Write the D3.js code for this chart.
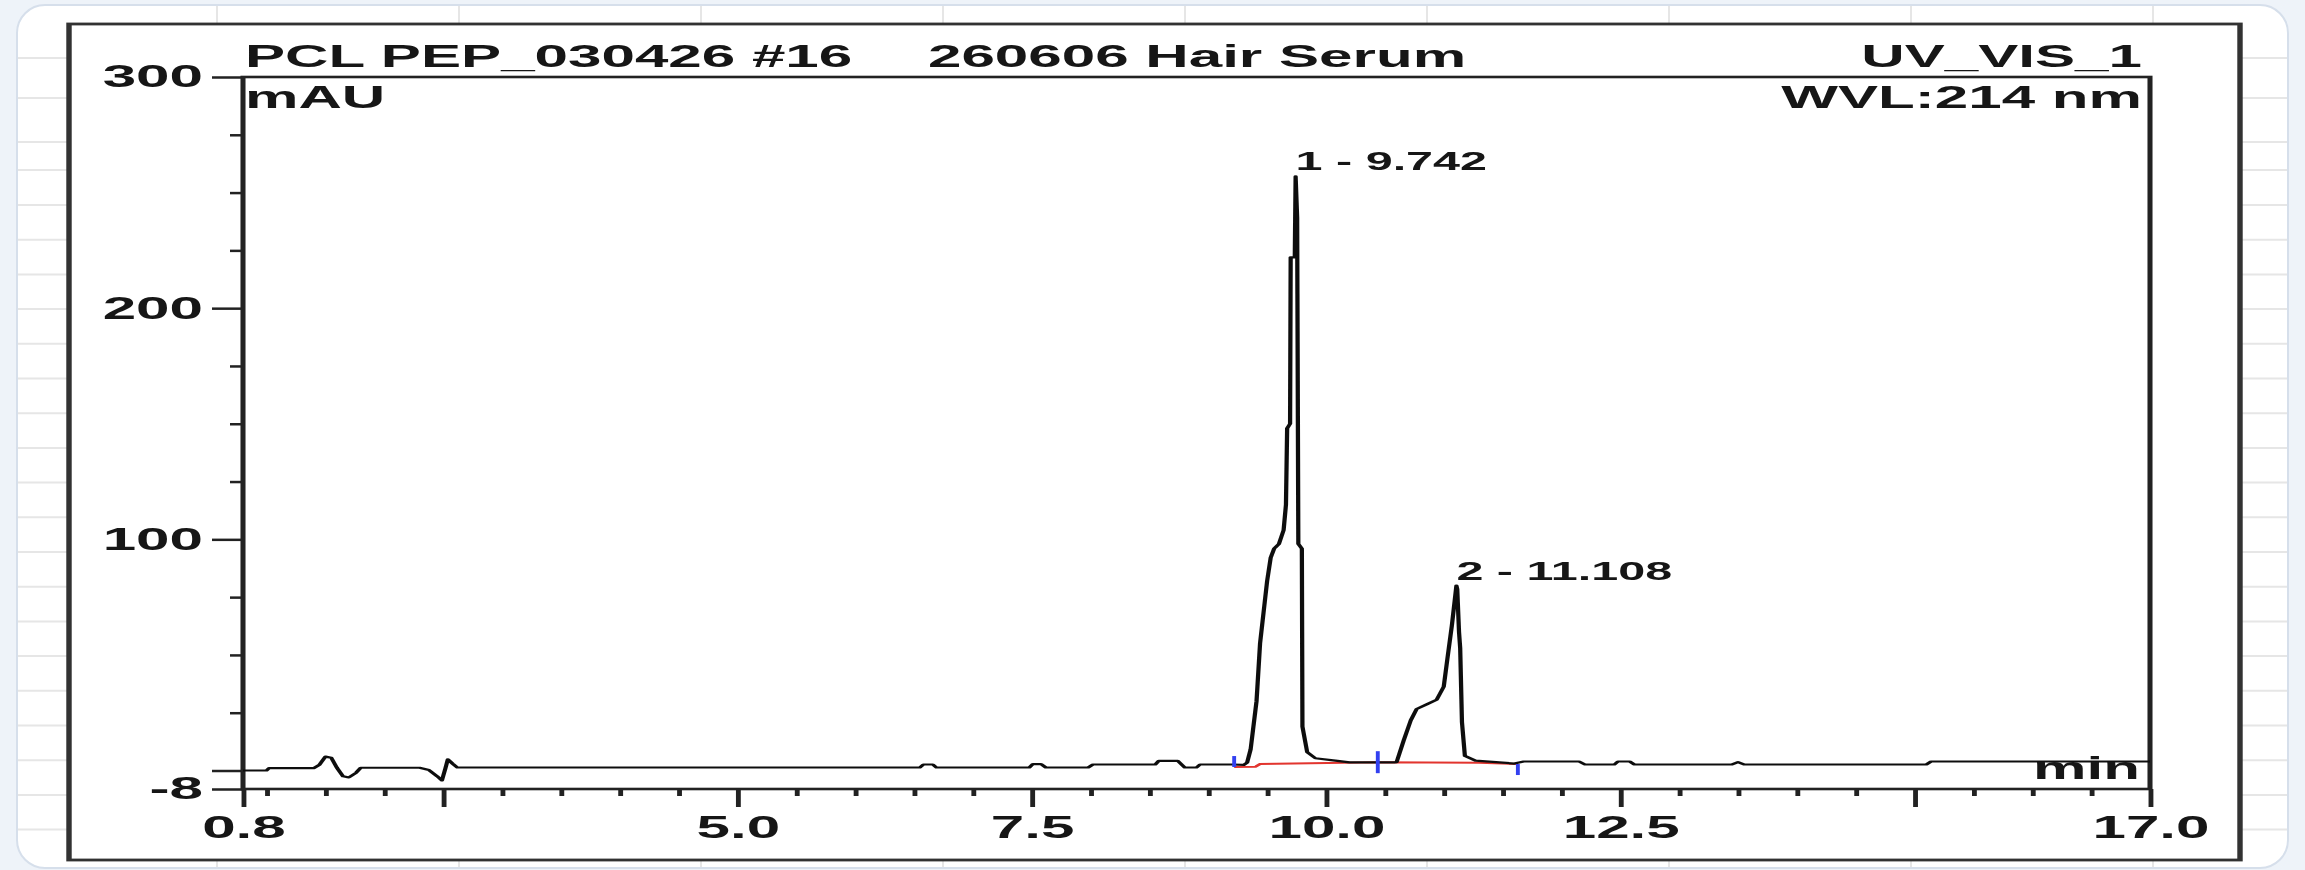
<!DOCTYPE html>
<html>
<head>
<meta charset="utf-8">
<script src="https://cdn.jsdelivr.net/npm/d3@7"></script>
<style>
  body { margin: 0; background: #eef3f9; }
  svg { display: block; }
</style>
</head>
<body>
<div id="chart"></div>
<script>
// ---- data ----
var titleLeft = "PCL PEP_030426 #16";
var titleMid = "260606 Hair Serum";
var channel = "UV_VIS_1";
var wavelength = "WVL:214 nm";
var yUnit = "mAU";
var xUnit = "min";

var xDomain = [0.8, 17.0];
var yDomain = [-8, 300];
var xMajor = [0.8, 2.5, 5.0, 7.5, 10.0, 12.5, 15.0, 17.0];
var xLabeled = [0.8, 5.0, 7.5, 10.0, 12.5, 17.0];
var xMinor = [1, 1.5, 2, 3, 3.5, 4, 4.5, 5.5, 6, 6.5, 7, 8, 8.5, 9, 9.5, 10.5, 11, 11.5, 12, 13, 13.5, 14, 14.5, 15.5, 16, 16.5];
var yMajor = [300, 200, 100, 0, -8];
var yLabeled = [300, 200, 100, -8];
var yMinor = [275, 250, 225, 175, 150, 125, 75, 50, 25];

// signal: [time (min), absorbance (mAU)]
var trace = [
  [0.80, 0.0], [1.00, 0.0], [1.02, 1.0], [1.40, 1.0], [1.45, 2.5], [1.50, 6.0], [1.55, 5.5],
  [1.60, 1.0], [1.65, -2.5], [1.70, -3.0], [1.76, -1.0], [1.80, 1.2], [2.30, 1.2], [2.38, 0.2],
  [2.45, -2.5], [2.49, -4.3], [2.52, 1.0], [2.54, 4.8], [2.58, 3.0], [2.62, 1.3], [4.00, 1.3],
  [5.50, 1.3], [6.55, 1.3], [6.58, 2.6], [6.66, 2.6], [6.69, 1.3], [7.48, 1.3], [7.51, 2.8],
  [7.58, 2.8], [7.62, 1.3], [7.98, 1.3], [8.02, 2.6], [8.55, 2.6], [8.58, 4.2], [8.74, 4.2],
  [8.80, 1.3], [8.90, 1.3], [8.93, 2.6], [9.20, 2.6], [9.30, 2.4], [9.33, 3.4], [9.36, 9.2],
  [9.41, 30], [9.44, 55], [9.48, 73], [9.50, 82], [9.53, 92], [9.56, 96], [9.60, 98],
  [9.64, 104], [9.66, 115], [9.67, 148], [9.695, 150], [9.70, 222], [9.735, 222], [9.742, 257],
  [9.755, 239], [9.765, 98], [9.795, 96], [9.80, 19], [9.84, 8], [9.91, 5.3], [10.08, 4.3],
  [10.20, 3.5], [10.58, 3.5], [10.60, 3.6], [10.66, 13], [10.72, 21.7], [10.77, 26.6],
  [10.86, 28.7], [10.94, 30.6], [11.00, 36.2], [11.03, 47.8], [11.07, 63], [11.108, 80],
  [11.115, 78.5], [11.13, 60], [11.14, 53], [11.155, 21], [11.18, 6.3], [11.27, 4.3],
  [11.60, 3.0], [11.68, 3.9], [12.15, 3.9], [12.20, 2.6], [12.45, 2.6], [12.48, 3.9],
  [12.58, 3.9], [12.62, 2.6], [13.45, 2.6], [13.50, 3.6], [13.55, 2.6], [15.10, 2.6],
  [15.14, 3.9], [17.00, 3.9]
];

// integration baseline and delimiters
var baseline = [[9.22, 1.5], [9.40, 1.6], [9.44, 2.8], [10.44, 3.6], [11.30, 3.4], [11.63, 2.8]];
var delimTimes = [9.22, 10.44, 11.63];
var delimValues = [1.5, 3.6, 2.8];
var delimKind = ["start", "split", "end"];

// peaks
var peakNames = ["1 - 9.742", "2 - 11.108"];
var peakTimes = [9.742, 11.108];
var peakHeights = [257, 80];

// ---- layout ----
var W = 2305, H = 870;
var SX = 1.94;              // source picture is stretched horizontally
var FONT = "'Liberation Sans', Arial, sans-serif";

var svg = d3.select("#chart").append("svg")
  .attr("width", W)
  .attr("height", H);

svg.append("rect").attr("width", W).attr("height", H).attr("fill", "#eef3f9");

// white panel with faint sheet grid behind the chart
svg.append("rect")
  .attr("x", 17).attr("y", 5).attr("width", 2271).attr("height", 863)
  .attr("rx", 28).attr("ry", 28)
  .attr("fill", "#ffffff")
  .attr("stroke", "#d6dfeb")
  .attr("stroke-width", 2);

var rows = [58, 98, 142, 170];
for (var r = 205; r <= 840; r += 34.7) rows.push(r);
var cols = d3.range(9).map(function(k){ return 217 + 242 * k; });

var sheet = svg.append("g").attr("stroke", "#e6e6e6").attr("stroke-width", 2);
sheet.selectAll(".row").data(rows).enter().append("line")
  .attr("x1", 18).attr("x2", 2287)
  .attr("y1", function(d){ return d; }).attr("y2", function(d){ return d; });
sheet.selectAll(".col").data(cols).enter().append("line")
  .attr("x1", function(d){ return d; }).attr("x2", function(d){ return d; })
  .attr("y1", 6).attr("y2", 867);

// soft filter to mimic the blurry screenshot
var defs = svg.append("defs");
defs.append("filter").attr("id", "soft")
  .append("feGaussianBlur").attr("stdDeviation", "0.4 0.6");

// everything of the chart lives in a horizontally stretched group
var g = svg.append("g")
  .attr("transform", "scale(" + SX + ",1)")
  .attr("filter", "url(#soft)");

g.append("rect")
  .attr("x", 69 / SX).attr("y", 24)
  .attr("width", (2240 - 69) / SX).attr("height", 836)
  .attr("fill", "#ffffff")
  .attr("stroke", "#333")
  .attr("stroke-width", 2.8);

var x = d3.scaleLinear().domain(xDomain).range([243 / SX, 2150 / SX]);
var y = d3.scaleLinear().domain(yDomain).range([789, 77]);

// y axis
var yAxis = g.append("g")
  .attr("transform", "translate(" + x(xDomain[0]) + ",0)")
  .call(d3.axisLeft(y).tickValues(yMajor).tickSize(31 / SX).tickPadding(9 / SX)
    .tickFormat(function(d){ return yLabeled.indexOf(d) >= 0 ? d : ""; }));
g.append("g")
  .attr("transform", "translate(" + x(xDomain[0]) + ",0)")
  .call(d3.axisLeft(y).tickValues(yMinor).tickSize(13 / SX).tickFormat(""));

// x axis
g.append("g")
  .attr("transform", "translate(0," + y(yDomain[0]) + ")")
  .call(d3.axisBottom(x).tickValues(xMajor).tickSize(18).tickPadding(9)
    .tickFormat(function(d){ return xLabeled.indexOf(d) >= 0 ? d3.format(".1f")(d) : ""; }));
g.append("g")
  .attr("transform", "translate(0," + y(yDomain[0]) + ")")
  .call(d3.axisBottom(x).tickValues(xMinor).tickSize(7).tickFormat(""));

g.selectAll(".domain").remove();
g.selectAll(".tick line").attr("stroke", "#222").attr("stroke-width", 2.5);
g.selectAll(".tick text")
  .attr("fill", "#151515")
  .style("font-family", FONT)
  .style("font-size", "31px")
  .style("font-weight", "bold");

// plot box
g.append("rect")
  .attr("x", x(xDomain[0])).attr("y", y(yDomain[1]))
  .attr("width", x(xDomain[1]) - x(xDomain[0]))
  .attr("height", y(yDomain[0]) - y(yDomain[1]))
  .attr("fill", "none")
  .attr("stroke", "#222")
  .attr("stroke-width", 2.6);

// header texts
function label(txt, px, py, anchor, size) {
  g.append("text")
    .attr("x", px).attr("y", py)
    .attr("text-anchor", anchor)
    .attr("fill", "#151515")
    .style("font-family", FONT)
    .style("font-size", size + "px")
    .style("font-weight", "bold")
    .text(txt);
}
label(titleLeft, 245 / SX, 67, "start", 31);
label(titleMid, 928 / SX, 67, "start", 31);
label(channel, 2142 / SX, 67, "end", 31);
label(yUnit, 245 / SX, 108, "start", 31);
label(wavelength, 2142 / SX, 108, "end", 31);
label(xUnit, 2140 / SX, 779, "end", 31);

// integration baseline
var line = d3.line()
  .x(function(d){ return x(d[0]); })
  .y(function(d){ return y(d[1]); });

g.append("path")
  .datum(baseline)
  .attr("d", line)
  .attr("fill", "none")
  .attr("stroke", "#e2342f")
  .attr("stroke-width", 2);

// chromatogram
g.append("path")
  .datum(trace)
  .attr("d", line)
  .attr("fill", "none")
  .attr("stroke", "#111")
  .attr("stroke-width", 2.2)
  .attr("stroke-linejoin", "round");

// peak delimiters
g.selectAll(".delim")
  .data(delimTimes)
  .enter().append("line")
  .attr("x1", function(d){ return x(d); })
  .attr("x2", function(d){ return x(d); })
  .attr("y1", function(d, i){ return y(delimValues[i]) - (delimKind[i] == "end" ? 0 : 11); })
  .attr("y2", function(d, i){ return y(delimValues[i]) + (delimKind[i] == "start" ? 0 : 11); })
  .attr("stroke", "#3340f0")
  .attr("stroke-width", 2);

// peak labels
g.selectAll(".peak")
  .data(peakNames)
  .enter().append("text")
  .attr("x", function(d, i){ return x(peakTimes[i]); })
  .attr("y", function(d, i){ return y(peakHeights[i]) - 6; })
  .attr("fill", "#151515")
  .style("font-family", FONT)
  .style("font-size", "25px")
  .style("font-weight", "bold")
  .text(function(d){ return d; });
</script>
</body>
</html>
